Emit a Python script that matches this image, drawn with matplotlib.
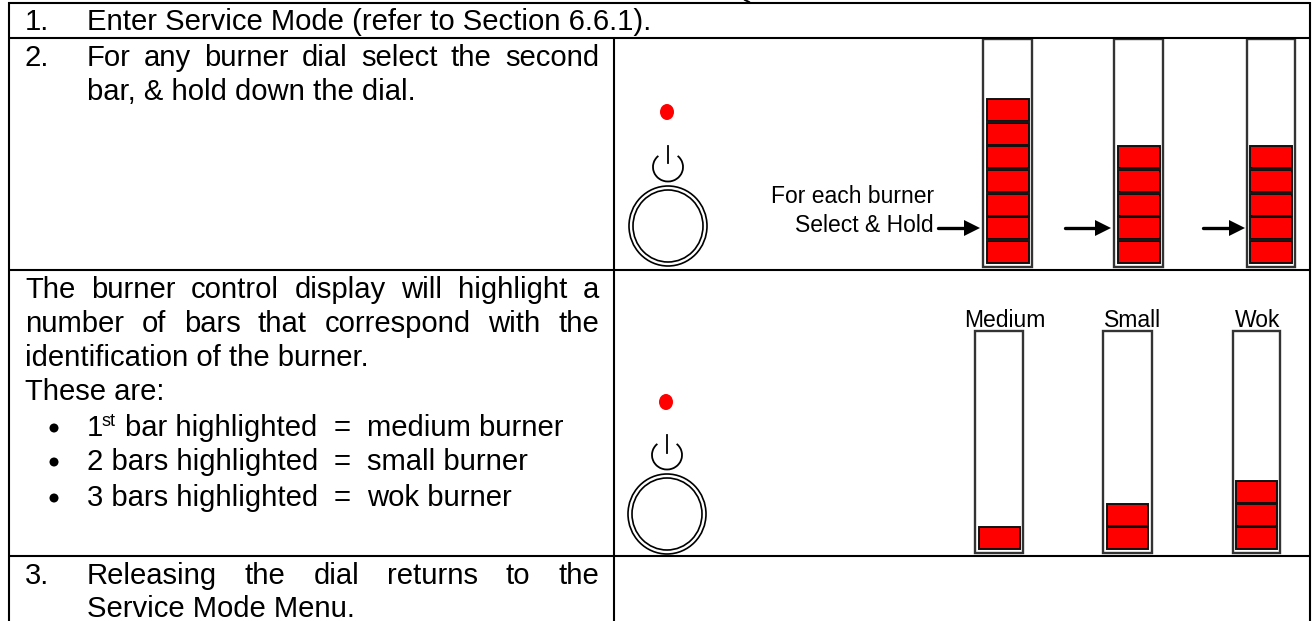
import matplotlib
matplotlib.use("Agg")
import matplotlib.pyplot as plt
from matplotlib.patches import Rectangle, Ellipse, Arc, Polygon

# ---- content ----
lit_bars_hold = [7, 5, 5]
lit_bars_id = [1, 2, 3]
burner_labels = ["Medium", "Small", "Wok"]
hold_caption = ["For each burner", "Select & Hold"]

W, H = 1313, 621
FONT = "Liberation Sans"
BODY = 21.1
SMALL = 16.5

fig = plt.figure(figsize=(W / 100, H / 100), dpi=100, facecolor="white")
ax = fig.add_axes([0, 0, 1, 1])
ax.set_xlim(0, W)
ax.set_ylim(H, 0)
ax.axis("off")
fig.canvas.draw()
rend = fig.canvas.get_renderer()


def txt(x, y, s, size=BODY, ha="left", **kw):
    return ax.text(x, y, s, fontsize=size, family=FONT, ha=ha, va="baseline",
                   color="black", **kw)


def width(s, size=BODY):
    t = txt(0, 0, s, size)
    w = t.get_window_extent(rend).width
    t.remove()
    return w


def justified(x0, x1, y, s):
    words = s.split(" ")
    ws = [width(w) for w in words]
    gap = (x1 - x0 - sum(ws)) / (len(words) - 1)
    x = x0
    for w, wd in zip(words, ws):
        txt(x, y, w)
        x += wd + gap


# ---- table rules ----
LW = 1.5
for y in [3, 38, 270, 556]:
    ax.plot([8, 1310], [y, y], color="black", lw=LW, solid_capstyle="butt")
ax.plot([9, 9], [2, H], color="black", lw=LW, solid_capstyle="butt")
ax.plot([614, 614], [38, H], color="black", lw=LW, solid_capstyle="butt")
ax.plot([1310, 1310], [2, H], color="black", lw=LW, solid_capstyle="butt")

# ---- left-hand text ----
L, IND, R = 25, 87, 599
txt(L, 30, "1.")
txt(IND, 30, "Enter Service Mode (refer to Section 6.6.1).")
txt(L, 66, "2.")
justified(IND, R, 66, "For any burner dial select the second")
txt(IND, 100, "bar, & hold down the dial.")

justified(L, R, 298, "The burner control display will highlight a")
justified(L, R, 332, "number of bars that correspond with the")
txt(L, 366, "identification of the burner.")
txt(L, 400, "These are:")

for y, lead, tail in [(436, "1", "medium burner"),
                      (470, "2 bars highlighted", "small burner"),
                      (506, "3 bars highlighted", "wok burner")]:
    ax.add_patch(Ellipse((54, y - 8), 9, 9, fc="black", ec="none"))
    txt(IND, y, lead)
    txt(342, y, "=", ha="center")
    txt(367, y, tail)
txt(102, 426, "st", size=13)
txt(125, 436, "bar highlighted")

txt(L, 584, "3.")
justified(IND, R, 584, "Releasing the dial returns to the")
txt(IND, 617, "Service Mode Menu.")

# sliver of the cropped heading's descender above the table
ax.plot([745, 749], [0, 2], color="black", lw=1.4)


# ---- graphics ----
def dial(cx, led_y, p_cy, line_top, line_bot, d_cy):
    ax.add_patch(Ellipse((cx - 1, led_y), 14, 16, fc="red", ec="none"))
    ax.add_patch(Arc((cx, p_cy), 30, 29, theta1=-49, theta2=229,
                     ec="black", lw=1.3))
    ax.plot([cx, cx], [line_top, line_bot], color="black", lw=1.3)
    ax.add_patch(Ellipse((cx, d_cy), 78, 80, fc="white", ec="black", lw=1.2))
    ax.add_patch(Ellipse((cx, d_cy), 70, 72, fc="white", ec="black", lw=1.2))


def burner(x0, x1, top, bot, n, rx0, rx1, first_bot, pitch, seg_h):
    ax.add_patch(Rectangle((x0, top), x1 - x0, bot - top, fc="white",
                           ec="#333333", lw=1.7))
    for i in range(n):
        yb = first_bot - i * pitch
        ax.add_patch(Rectangle((rx0, yb - seg_h), rx1 - rx0, seg_h,
                               fc="#ff0000", ec="#111111", lw=1.4))


def arrow(x0, x1, y):
    ax.plot([x0, x1 - 14], [y, y], color="black", lw=2.4, solid_capstyle="round")
    ax.add_patch(Polygon([(x1 - 16, y - 8), (x1, y), (x1 - 16, y + 8)],
                         closed=True, fc="black", ec="none"))


dial(668, 112, 167, 146, 163, 226)
dial(667, 402, 455, 435, 453, 514)

for n, (x0, x1, r0, r1) in zip(lit_bars_hold, [(983, 1032, 987, 1029),
                                               (1114, 1163, 1118, 1160),
                                               (1247, 1295, 1250, 1292)]):
    burner(x0, x1, 39, 267, n, r0, r1, 263, 23.7, 22)

for n, name, cx, (x0, x1, r0, r1) in zip(lit_bars_id, burner_labels,
                                         [1005, 1133, 1258],
                                         [(975, 1023, 979, 1020),
                                          (1103, 1152, 1107, 1148),
                                          (1233, 1280, 1236, 1277)]):
    burner(x0, x1, 331, 553, n, r0, r1, 549, 23, 22)
    txt(cx, 327, name, size=SMALL, ha="center")

txt(934, 203, hold_caption[0], size=SMALL, ha="right")
txt(934, 232, hold_caption[1], size=SMALL, ha="right")
arrow(938, 980, 228)
arrow(1065, 1111, 228)
arrow(1203, 1245, 228)

fig.savefig("out.png", dpi=100, facecolor="white")
